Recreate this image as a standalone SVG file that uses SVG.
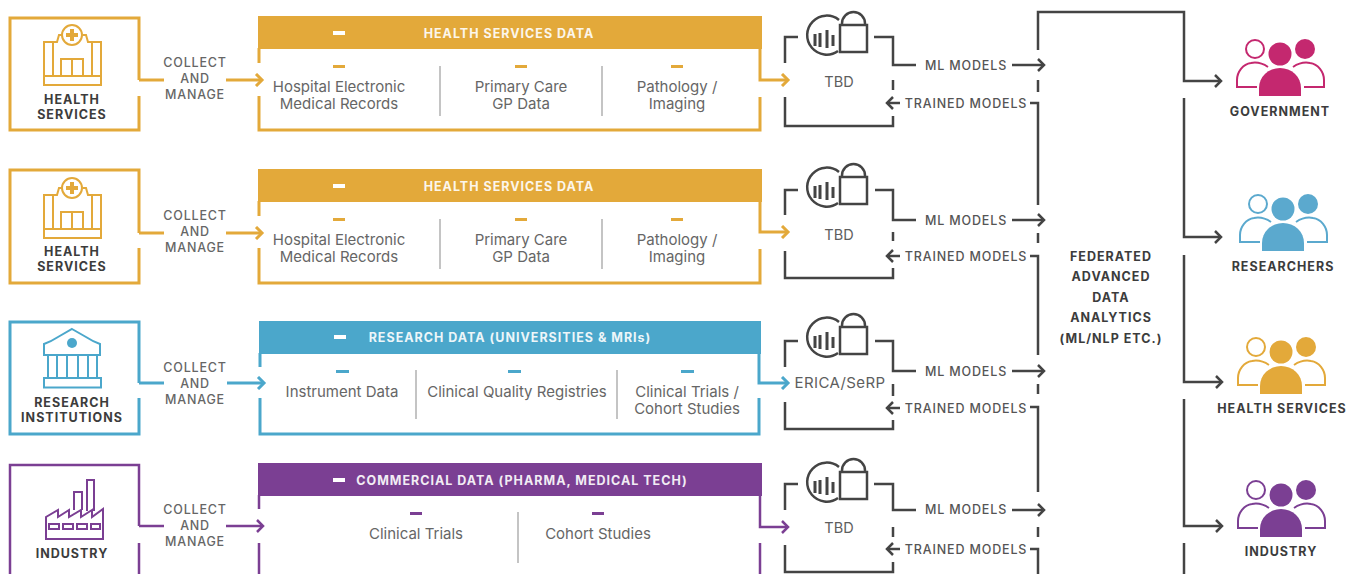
<svg xmlns="http://www.w3.org/2000/svg" width="1359" height="574" viewBox="0 0 1359 574">
<style>
text{font-family:"Inter","Liberation Sans",sans-serif;text-anchor:middle}
.gold{color:#E3A93A}.blue{color:#4BA7CB}.purple{color:#7B3F93}.pink{color:#C4286F}.sky{color:#5BA9CE}
.o{fill:none;stroke:currentColor;stroke-width:3}
.o2{fill:none;stroke:currentColor;stroke-width:2.5}
.t{fill:none;stroke:currentColor;stroke-width:2}
.f{fill:currentColor}
.d{fill:none;stroke:#444;stroke-width:2.5}
.dl{fill:none;stroke:#444;stroke-width:2.5}
.db{fill:none;stroke:#444;stroke-width:3}
.div{stroke:#c4c4c4;stroke-width:2}
.w{fill:#fff}
.lab{font-size:12.5px;font-weight:500;fill:#666;letter-spacing:.8px}
.name{font-size:12.5px;font-weight:700;fill:#3c3c3c;letter-spacing:1px}
.head{font-size:12.5px;font-weight:700;fill:#fff;letter-spacing:1px;opacity:.9}
.body{font-size:15px;font-weight:400;fill:#666}
.tbd{font-size:14.5px;font-weight:400;fill:#5e5e5e}
.er{font-size:15px;font-weight:400;fill:#5e5e5e;letter-spacing:.4px}
.m{font-size:12.5px;font-weight:500;fill:#555;letter-spacing:.85px}
</style>
<defs>
<marker id="ag" markerUnits="userSpaceOnUse" markerWidth="14" markerHeight="14" refX="10" refY="7" orient="auto"><path d="M4 1L10 7L4 13" fill="none" stroke="#E3A93A" stroke-width="3"/></marker>
<marker id="ab" markerUnits="userSpaceOnUse" markerWidth="14" markerHeight="14" refX="10" refY="7" orient="auto"><path d="M4 1L10 7L4 13" fill="none" stroke="#4BA7CB" stroke-width="3"/></marker>
<marker id="ap" markerUnits="userSpaceOnUse" markerWidth="14" markerHeight="14" refX="10" refY="7" orient="auto"><path d="M4 1L10 7L4 13" fill="none" stroke="#7B3F93" stroke-width="2.500"/></marker>
<marker id="ad" markerUnits="userSpaceOnUse" markerWidth="14" markerHeight="14" refX="10" refY="7" orient="auto"><path d="M4 1L10 7L4 13" fill="none" stroke="#444" stroke-width="2.500"/></marker>
<g id="hospital">
<circle class="t" cx="72" cy="35" r="10"/>
<path class="f" d="M70 29h4v4h4v4h-4v4h-4v-4h-4v-4h4z"/>
<path class="t" d="M53 42h4l2-7h3M92 42h-4l-2-7h-3M53 42V76M92 42V76"/>
<rect class="t" x="44" y="42" width="9" height="34"/>
<rect class="t" x="92" y="42" width="9" height="34"/>
<rect class="t" x="44" y="76" width="57" height="9"/>
<rect class="t" x="61" y="59" width="22" height="17"/>
<path class="t" d="M72 59V76"/>
</g>
<g id="lock">
<path class="dl" d="M839 20A19.500 19.500 0 1 0 838 51"/>
<path class="db" d="M815 34V46M820 33V47M827 30V48M833 35V46"/>
<rect class="dl" x="840" y="25" width="27" height="27"/>
<path class="dl" d="M842 25V23.500A11.500 11.500 0 0 1 865 23.500V25"/>
</g>
<g id="people">
<circle class="t" cx="1255" cy="49" r="9"/>
<circle class="f" cx="1280" cy="54" r="11.500"/>
<circle class="f" cx="1305" cy="49" r="10"/>
<path class="f" d="M1259 96V88a21 20 0 0 1 42 0V96Z"/>
<path class="t" d="M1268 67C1262 63 1256 62 1251 63C1243 64 1237 72 1237 80V87H1257"/>
<path class="t" d="M1293 67C1299 63 1305 62 1310 63C1318 64 1324 72 1324 80V87H1304"/>
</g>
</defs>

<g id="connectors">
<path class="o gold" d="M139 80H164"/><path class="o gold" d="M226 80H262" marker-end="url(#ag)"/><path class="o gold" d="M760 48V80H788" marker-end="url(#ag)"/>
<path class="o gold" d="M139 233H164"/><path class="o gold" d="M226 233H262" marker-end="url(#ag)"/><path class="o gold" d="M760 201V232H788" marker-end="url(#ag)"/>
<path class="o blue" d="M139 383H164"/><path class="o blue" d="M227 383H264" marker-end="url(#ab)"/><path class="o blue" d="M759 353V383H788" marker-end="url(#ab)"/>
<path class="o2 purple" d="M139 526H164"/><path class="o2 purple" d="M226 526H263" marker-end="url(#ap)"/><path class="o2 purple" d="M760 495V527H788" marker-end="url(#ap)"/>

<path class="d" d="M874 37H893V65H916"/><path class="d" d="M1012 65H1044" marker-end="url(#ad)"/><path class="d" d="M900 103H887" marker-end="url(#ad)"/>
<path class="d" d="M875 190H893V220H916"/><path class="d" d="M1012 220H1044" marker-end="url(#ad)"/><path class="d" d="M900 256H887" marker-end="url(#ad)"/>
<path class="d" d="M875 341H893V371H916"/><path class="d" d="M1012 371H1044" marker-end="url(#ad)"/><path class="d" d="M900 408H887" marker-end="url(#ad)"/>
<path class="d" d="M874 484H893V510H916"/><path class="d" d="M1012 510H1044" marker-end="url(#ad)"/><path class="d" d="M900 549H887" marker-end="url(#ad)"/>

<path class="d" d="M1038 50V12H1184V81H1221" marker-end="url(#ad)"/>
<path class="d" d="M1184 98V237H1221" marker-end="url(#ad)"/>
<path class="d" d="M1184 255V382H1222" marker-end="url(#ad)"/>
<path class="d" d="M1184 399V526H1222" marker-end="url(#ad)"/>
<path class="d" d="M1184 543V574"/>
<path class="d" d="M1038 80V92M1030 103H1038V205M1038 233V243M1030 256H1038V355M1038 384V394M1030 407H1038V492M1038 527V537M1030 549H1038V574"/>
</g>

<g id="source-health-1" class="gold">
<path class="o" d="M139 96V130H10V18H139V80"/>
<use href="#hospital"/>
<text class="name" x="72" y="104">HEALTH</text><text class="name" x="72" y="119">SERVICES</text>
</g>
<g id="source-health-2" class="gold">
<path class="o" d="M139 248V283H10V170H139V233"/>
<use href="#hospital" y="153"/>
<text class="name" x="72" y="256">HEALTH</text><text class="name" x="72" y="271">SERVICES</text>
</g>
<g id="source-research" class="blue">
<path class="o" d="M139 398V434H10V322H139V383"/>
<path class="t" d="M72 329L86 337Q92 341 100 344V355H44V344Q52 341 58 337Z"/>
<circle class="f" cx="72" cy="343" r="5"/>
<path class="t" d="M48 355V378M57 355V378M67 355V378M78 355V378M88 355V378M97 355V378"/>
<rect class="t" x="44" y="378" width="57" height="9.500"/>
<text class="name" x="72" y="407">RESEARCH</text><text class="name" x="72" y="422">INSTITUTIONS</text>
</g>
<g id="source-industry" class="purple">
<path class="o2" d="M139 543V574M10 574V465H139V526"/>
<path class="t" d="M74 510V492H82V510M87 511V480H94V511"/>
<path class="t" d="M46 539V517L58 510V517L69 510V517L81 510V517L92 510V517L103 509V539Z"/>
<path class="t" d="M49 524h10v5h-10zM63 524h10v5h-10zM77 524h10v5h-10zM91 524h9v5h-9z"/>
<text class="name" x="72" y="558">INDUSTRY</text>
</g>

<g id="manage-labels">
<text class="lab" x="195" y="67">COLLECT</text><text class="lab" x="195" y="83">AND</text><text class="lab" x="195" y="99">MANAGE</text>
<text class="lab" x="195" y="220">COLLECT</text><text class="lab" x="195" y="236">AND</text><text class="lab" x="195" y="252">MANAGE</text>
<text class="lab" x="195" y="372">COLLECT</text><text class="lab" x="195" y="388">AND</text><text class="lab" x="195" y="404">MANAGE</text>
<text class="lab" x="195" y="514">COLLECT</text><text class="lab" x="195" y="530">AND</text><text class="lab" x="195" y="546">MANAGE</text>
</g>

<g id="data-health-1" class="gold">
<rect class="f" x="258" y="16" width="504" height="33"/>
<path class="o" d="M259 48V63M259 96V130H760V97"/>
<rect class="w" x="333" y="31" width="12" height="4"/>
<text class="head" x="509" y="38">HEALTH SERVICES DATA</text>
<rect class="f" x="333" y="65" width="12" height="3"/><rect class="f" x="515" y="65" width="12" height="3"/><rect class="f" x="671" y="65" width="12" height="3"/>
<path class="div" d="M440 66V116M602 66V116"/>
<text class="body" x="339" y="92">Hospital Electronic</text><text class="body" x="339" y="109">Medical Records</text>
<text class="body" x="521" y="92">Primary Care</text><text class="body" x="521" y="109">GP Data</text>
<text class="body" x="677" y="92">Pathology /</text><text class="body" x="677" y="109">Imaging</text>
</g>
<g id="data-health-2" class="gold">
<rect class="f" x="258" y="169" width="504" height="33"/>
<path class="o" d="M259 201V216M259 248V283H760V249"/>
<rect class="w" x="333" y="184" width="12" height="4"/>
<text class="head" x="509" y="191">HEALTH SERVICES DATA</text>
<rect class="f" x="333" y="218" width="12" height="3"/><rect class="f" x="515" y="218" width="12" height="3"/><rect class="f" x="671" y="218" width="12" height="3"/>
<path class="div" d="M440 219V269M602 219V269"/>
<text class="body" x="339" y="245">Hospital Electronic</text><text class="body" x="339" y="262">Medical Records</text>
<text class="body" x="521" y="245">Primary Care</text><text class="body" x="521" y="262">GP Data</text>
<text class="body" x="677" y="245">Pathology /</text><text class="body" x="677" y="262">Imaging</text>
</g>
<g id="data-research" class="blue">
<rect class="f" x="259" y="321" width="502" height="33"/>
<path class="o" d="M260 353V367M260 398V434H759V398"/>
<rect class="w" x="334" y="335" width="12" height="4"/>
<text class="head" x="510" y="342">RESEARCH DATA (UNIVERSITIES &amp; MRIs)</text>
<rect class="f" x="336" y="370" width="13" height="3"/><rect class="f" x="508" y="370" width="13" height="3"/><rect class="f" x="681" y="370" width="13" height="3"/>
<path class="div" d="M416 370V419M617 370V419"/>
<text class="body" x="342" y="397">Instrument Data</text>
<text class="body" x="517" y="397">Clinical Quality Registries</text>
<text class="body" x="687" y="397">Clinical Trials /</text><text class="body" x="687" y="414">Cohort Studies</text>
</g>
<g id="data-commercial" class="purple">
<rect class="f" x="258" y="463" width="504" height="33"/>
<path class="o2" d="M259 495V509M259 543V574M760 543V574"/>
<rect class="w" x="333" y="478" width="12" height="4"/>
<text class="head" x="522" y="485">COMMERCIAL DATA (PHARMA, MEDICAL TECH)</text>
<rect class="f" x="410" y="512" width="12" height="3"/><rect class="f" x="592" y="512" width="12" height="3"/>
<path class="div" d="M518 512V563"/>
<text class="body" x="416" y="539">Clinical Trials</text>
<text class="body" x="598" y="539">Cohort Studies</text>
</g>

<g id="platform-1">
<use href="#lock"/>
<path class="d" d="M798 37H785V63M785 97V126H893V116M893 80V90"/>
<text class="tbd" x="839" y="87">TBD</text>
</g>
<g id="platform-2">
<use href="#lock" y="152"/>
<path class="d" d="M798 190H785V215M785 251V278H893V268M893 232V241"/>
<text class="tbd" x="839" y="240">TBD</text>
</g>
<g id="platform-3">
<use href="#lock" y="302"/>
<path class="d" d="M798 341H785V367M785 402V429H893V420M893 384V396"/>
<text class="er" x="840" y="388">ERICA/SeRP</text>
</g>
<g id="platform-4">
<use href="#lock" y="447"/>
<path class="d" d="M798 484H785V510M785 545V572H893V562M893 527V537"/>
<text class="tbd" x="839" y="533">TBD</text>
</g>

<g id="model-labels">
<text class="m" x="966" y="70">ML MODELS</text><text class="m" x="966" y="108">TRAINED MODELS</text>
<text class="m" x="966" y="225">ML MODELS</text><text class="m" x="966" y="261">TRAINED MODELS</text>
<text class="m" x="966" y="376">ML MODELS</text><text class="m" x="966" y="413">TRAINED MODELS</text>
<text class="m" x="966" y="514">ML MODELS</text><text class="m" x="966" y="554">TRAINED MODELS</text>
</g>

<g id="federated">
<text class="name" x="1111" y="261">FEDERATED</text><text class="name" x="1111" y="281">ADVANCED</text><text class="name" x="1111" y="302">DATA</text><text class="name" x="1111" y="322">ANALYTICS</text><text class="name" x="1111" y="343">(ML/NLP ETC.)</text>
</g>

<g id="user-government" class="pink"><use href="#people"/><text class="name" x="1280" y="116">GOVERNMENT</text></g>
<g id="user-researchers" class="sky"><use href="#people" x="3" y="155"/><text class="name" x="1283" y="271">RESEARCHERS</text></g>
<g id="user-health" class="gold"><use href="#people" x="1" y="298"/><text class="name" x="1282" y="413">HEALTH SERVICES</text></g>
<g id="user-industry" class="purple"><use href="#people" x="1" y="441"/><text class="name" x="1281" y="556">INDUSTRY</text></g>
</svg>
